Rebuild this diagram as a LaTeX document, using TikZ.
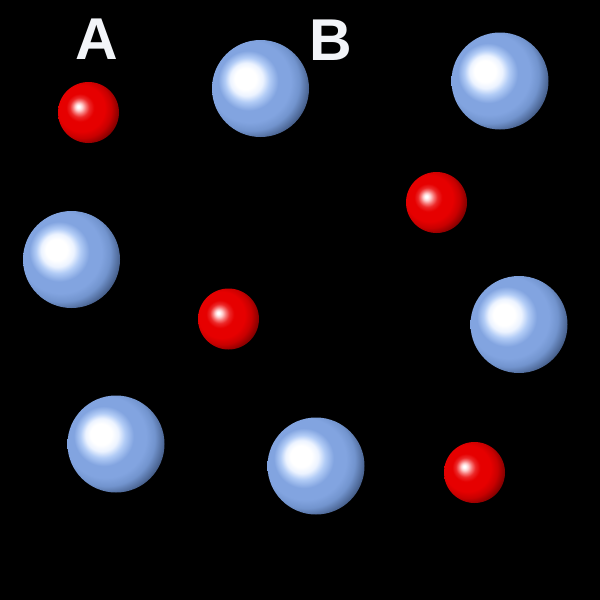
\documentclass[tikz,border=0pt]{standalone}
\usepackage{fontspec}
\setmainfont{Liberation Sans}
\definecolor{bhi}{RGB}{255,255,255}
\definecolor{bhi2}{RGB}{236,243,255}
\definecolor{bmid}{RGB}{178,204,246}
\definecolor{bbase}{RGB}{130,164,224}
\definecolor{bbase2}{RGB}{114,148,206}
\definecolor{bdark}{RGB}{76,102,148}
\definecolor{bedge}{RGB}{44,60,92}
\definecolor{rhi2}{RGB}{255,205,205}
\definecolor{rmid}{RGB}{246,115,115}
\definecolor{rmid2}{RGB}{236,40,40}
\definecolor{rbase}{RGB}{230,0,0}
\definecolor{rbase2}{RGB}{200,0,0}
\definecolor{rdark}{RGB}{135,0,0}
\definecolor{redge}{RGB}{80,0,0}
\definecolor{lettercol}{RGB}{242,244,248}
\pgfdeclareradialshading{blueshade}{\pgfpoint{-8.5bp}{5.5bp}}{%
  color(0bp)=(bhi); color(5.5bp)=(bhi); color(8.5bp)=(bhi2); color(11.5bp)=(bmid);
  color(15.5bp)=(bbase); color(21bp)=(bbase); color(25bp)=(bbase2); color(29bp)=(bdark);
  color(32bp)=(bedge); color(60bp)=(bedge)}
\pgfdeclareradialshading{redshade}{\pgfpoint{-8.5bp}{5bp}}{%
  color(0bp)=(bhi); color(1bp)=(bhi); color(3bp)=(rhi2); color(5.5bp)=(rmid);
  color(8bp)=(rmid2); color(11.5bp)=(rbase); color(19bp)=(rbase); color(24bp)=(rbase2);
  color(29bp)=(rdark); color(32bp)=(redge); color(60bp)=(redge)}
\begin{document}
\begin{tikzpicture}[x=1pt,y=-1pt,
  bigball/.style={circle,inner sep=0pt,minimum size=97pt,shading=blueshade},
  smallball/.style={circle,inner sep=0pt,minimum size=61pt,shading=redshade},
  letter/.style={text=lettercol,font=\fontsize{59}{59}\selectfont\bfseries,inner sep=0pt,anchor=base}]
\fill[black] (0,0) rectangle (600,600);
\useasboundingbox (0,0) rectangle (600,600);
\node[letter] (la) at (96.5,59.5) {A};
\node[letter] (lb) at (330.5,60.5) {B};
\node[smallball] (r1) at (88.5,112.5) {};
\node[bigball] (b1) at (260.5,88.5) {};
\node[bigball] (b2) at (500,81) {};
\node[smallball] (r2) at (436.5,202.5) {};
\node[bigball] (b3) at (71.5,259.5) {};
\node[smallball] (r3) at (228.5,319) {};
\node[bigball] (b4) at (519,324.5) {};
\node[bigball] (b5) at (116,444) {};
\node[bigball] (b6) at (316,466) {};
\node[smallball] (r4) at (474.5,472.5) {};
\end{tikzpicture}
\end{document}
